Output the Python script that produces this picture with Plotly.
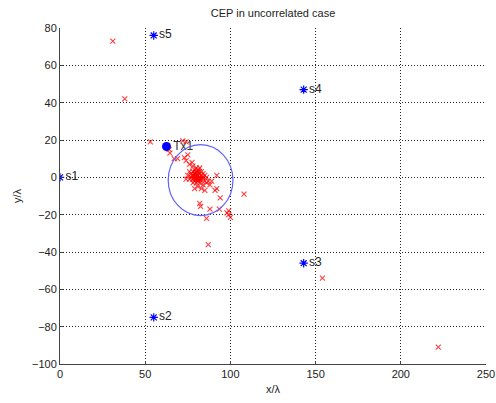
import plotly.graph_objects as go

# Sensors
sensor_names = ["s1", "s2", "s3", "s4", "s5"]
sensor_x = [0, 55, 143, 143, 55]
sensor_y = [0, -75, -46, 47, 76]

# Transmitter
tx_name = ["Tx1"]
tx_x = [62.5]
tx_y = [16.5]

# Estimates (red x)
est_x = [78, 79, 80, 81, 80, 79, 81, 82, 82, 83, 80, 78, 77, 79, 81, 83, 84, 84, 82, 80,
         78, 77, 76, 78, 83, 85, 85, 86, 79, 80.5, 81.5, 80, 78, 82, 86, 87, 84, 81, 79, 83,
         85, 88, 89, 75, 76, 74, 80, 81, 79, 82,
         79.5, 80.5, 81, 82.5, 78.5, 80, 81.5, 83.5, 79, 77.5,
         64, 64.5, 67, 69, 73, 72, 74, 76, 77.5, 75, 74,
         92, 91, 92, 94, 88, 82, 82.5, 86, 93.5, 98, 99, 100, 99, 108, 87, 53, 31, 38, 154, 222]
est_y = [1, 2, 0, 1, -1, -2, -2, 0, 2, 1, 3, -1, 0, 4, 4, -1, 0, 2, -3, -3,
         3, 2, -1, -3, 3, 1, -2, 0, 0.5, 1.5, -0.5, 5, 6, 5, -3, -2, -4, -5, -6, -6,
         -7, -4, -2, 1, 3, -1, 0.5, -1.5, 1.5, -1,
         2.5, 2.5, -1, -1.5, 0, -0.5, 3, 0, -1, 1,
         15, 13, 10, 10, 10.5, 19.5, 19, 7, 8, 12, 9,
         1, -7, -6, -11, -17, -14, -15.5, -22, -17, -19, -18, -21.5, -20, -9, -36, 19, 73, 42, -54, -91]

# CEP circle
cep_cx = 82.5
cep_cy = -1.5
cep_r = 19

x_ticks = [0, 50, 100, 150, 200, 250]
y_ticks = [80, 60, 40, 20, 0, -20, -40, -60, -80, -100]

FONT = "Liberation Sans, Arial, sans-serif"

fig = go.Figure()

fig.add_shape(type="circle", xref="x", yref="y",
              x0=cep_cx - cep_r, x1=cep_cx + cep_r,
              y0=cep_cy - cep_r, y1=cep_cy + cep_r,
              line=dict(color="#6060ff", width=1.2))

fig.add_trace(go.Scatter(
    x=est_x, y=est_y, mode="markers",
    marker=dict(symbol="x-thin-open", size=5, color="rgba(255,0,0,0.75)",
                line=dict(color="rgba(255,0,0,0.75)", width=1.1)),
    hoverinfo="x+y", showlegend=False))

fig.add_trace(go.Scatter(
    x=sensor_x, y=sensor_y, mode="markers+text", text=sensor_names,
    textposition="middle right", textfont=dict(family=FONT, size=12, color="#222"),
    marker=dict(symbol="asterisk-open", size=7, color="blue",
                line=dict(color="blue", width=1.2)),
    showlegend=False))

fig.add_trace(go.Scatter(
    x=tx_x, y=tx_y, mode="markers+text", text=tx_name,
    textposition="middle right", textfont=dict(family=FONT, size=12, color="#333"),
    marker=dict(symbol="circle", size=9, color="blue"),
    showlegend=False))

axis_common = dict(
    showgrid=True, griddash="1px,2px", gridcolor="#222", gridwidth=1,
    zeroline=False, showline=True, linecolor="#444", linewidth=1,
    ticks="inside", ticklen=3, tickcolor="#444",
    tickfont=dict(family=FONT, size=11, color="#222"),
    mirror=False, automargin=False,
)

fig.update_layout(
    width=496, height=403,
    margin=dict(l=60, r=10, t=28, b=39, autoexpand=False),
    paper_bgcolor="white", plot_bgcolor="white",
    title=dict(text="CEP in uncorrelated case", xref="paper", x=0.5, xanchor="center",
               yref="container", y=0.968, yanchor="middle",
               font=dict(family=FONT, size=11, color="#222")),
    xaxis=dict(range=[0, 250], tickvals=x_ticks,
               title=dict(text="x/λ", standoff=6, font=dict(family=FONT, size=11, color="#222")),
               **axis_common),
    yaxis=dict(range=[-100, 80], tickvals=y_ticks,
               title=dict(text="y/λ", standoff=8, font=dict(family=FONT, size=11, color="#222")),
               **axis_common),
)

fig.write_html("out.html", config={"displayModeBar": False},
               post_script="document.body.style.margin='0';document.body.style.overflow='hidden';")
